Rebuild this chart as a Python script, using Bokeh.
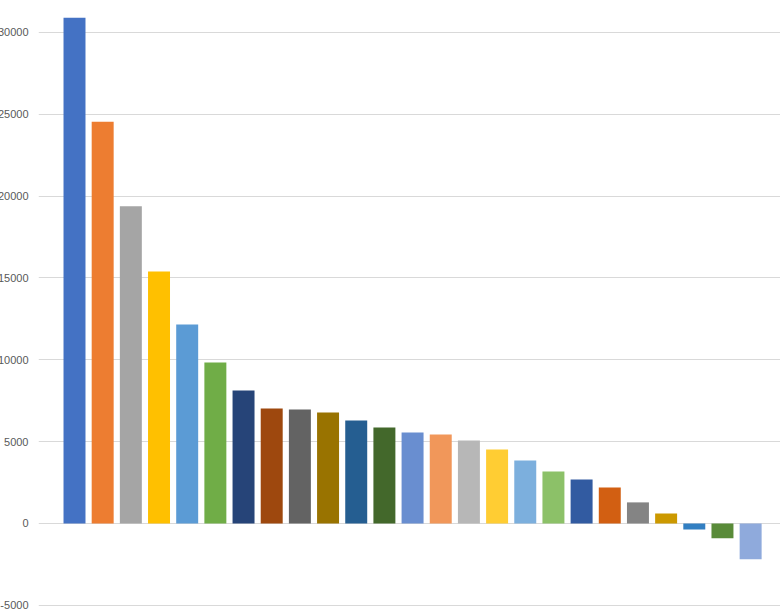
from bokeh.plotting import figure
from bokeh.models import (ColumnDataSource, Range1d, FixedTicker, NumeralTickFormatter,
                          GlobalInlineStyleSheet)
from bokeh.embed import file_html
from bokeh.resources import INLINE

categories = ["C1", "C2", "C3", "C4", "C5", "C6", "C7", "C8", "C9", "C10",
              "C11", "C12", "C13", "C14", "C15", "C16", "C17", "C18", "C19", "C20",
              "C21", "C22", "C23", "C24", "C25"]
values = [30900, 24550, 19380, 15400, 12160, 9840, 8130, 7030, 6970, 6780,
          6290, 5860, 5560, 5440, 5070, 4520, 3850, 3180, 2690, 2200,
          1290, 610, -360, -900, -2180]
colors = ["#4472C4", "#ED7D31", "#A5A5A5", "#FFC000", "#5B9BD5", "#70AD47",
          "#264478", "#9E480E", "#636363", "#997300", "#255E91", "#43682B",
          "#698ED0", "#F1975A", "#B7B7B7", "#FFCD33", "#7CAFDD", "#8CC168",
          "#325BA1", "#D25F12", "#848484", "#CC9900", "#327FC2", "#598B39",
          "#8FAADC"]
y_ticks = [-5000, 0, 5000, 10000, 15000, 20000, 25000, 30000]

pos = list(range(len(categories)))
src = ColumnDataSource(dict(x=pos, top=values, color=colors, name=categories))

# the page is shifted 10px left so the (cut) y labels sit like in the reference
p = figure(width=790, height=616, output_backend="svg", toolbar_location=None,
           x_range=Range1d(-1.278, 25.06), y_range=Range1d(-5438, 31955),
           min_border_left=48, min_border_right=0, min_border_top=0, min_border_bottom=4)
p.stylesheets = [GlobalInlineStyleSheet(
    css="html { margin: 0 !important; padding: 0 !important; overflow: hidden; } "
        "body { margin: 0 0 0 -10px !important; padding: 0 !important; overflow: hidden; }")]
p.outline_line_color = None
p.background_fill_color = "white"
p.border_fill_color = "white"

p.vbar(x="x", top="top", bottom=0, width=0.78, color="color", line_color=None, source=src)

p.xaxis.visible = False
p.xgrid.grid_line_color = None
p.ygrid.grid_line_color = "#D9D9D9"
p.ygrid.grid_line_width = 1

yax = p.yaxis[0]
yax.ticker = FixedTicker(ticks=y_ticks)
yax.formatter = NumeralTickFormatter(format="0")
yax.axis_line_color = None
yax.major_tick_line_color = None
yax.minor_tick_line_color = None
yax.major_tick_out = 0
yax.major_tick_in = 0
yax.major_label_standoff = 10
yax.major_label_text_font = "Liberation Sans"
yax.major_label_text_font_size = "11px"
yax.major_label_text_color = "#595959"

open("out.html", "w").write(file_html(p, INLINE))
